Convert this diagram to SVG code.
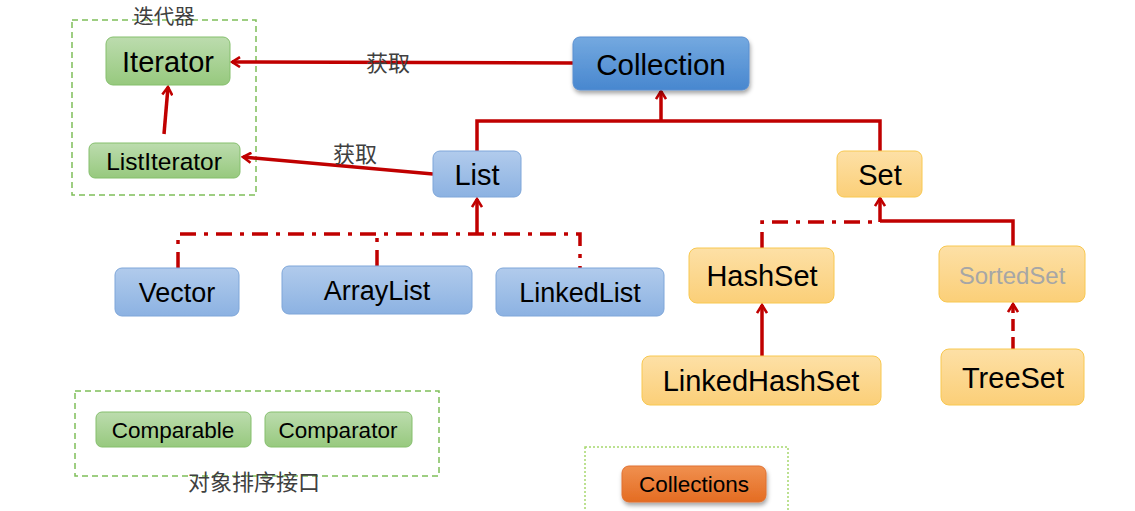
<svg xmlns="http://www.w3.org/2000/svg" width="1135" height="511" viewBox="0 0 1135 511">
<defs>
<linearGradient id="gGreen" x1="0" y1="0" x2="0" y2="1"><stop offset="0" stop-color="#bcdcae"/><stop offset="1" stop-color="#97c97e"/></linearGradient>
<linearGradient id="gBlueL" x1="0" y1="0" x2="0" y2="1"><stop offset="0" stop-color="#b1cbec"/><stop offset="1" stop-color="#8cb2e2"/></linearGradient>
<linearGradient id="gBlue" x1="0" y1="0" x2="0" y2="1"><stop offset="0" stop-color="#74a9e0"/><stop offset="1" stop-color="#4887cf"/></linearGradient>
<linearGradient id="gOrangeL" x1="0" y1="0" x2="0" y2="1"><stop offset="0" stop-color="#fde0a6"/><stop offset="1" stop-color="#fbcf78"/></linearGradient>
<linearGradient id="gOrange" x1="0" y1="0" x2="0" y2="1"><stop offset="0" stop-color="#f0904f"/><stop offset="1" stop-color="#e46c22"/></linearGradient>
<filter id="sh" x="-20%" y="-20%" width="140%" height="160%"><feDropShadow dx="1" dy="3" stdDeviation="2" flood-color="#000" flood-opacity="0.35"/></filter>
<marker id="ah" viewBox="0 0 12 12" refX="10" refY="6" markerWidth="12" markerHeight="12" markerUnits="userSpaceOnUse" orient="auto"><polyline points="2,1 10,6 2,11" fill="none" stroke="#c00000" stroke-width="2.6"/></marker>
</defs>
<style>
.t{font-family:"Liberation Sans",Arial,sans-serif;fill:#000;text-anchor:middle;dominant-baseline:central}
.cjk{font-family:"Noto Sans CJK SC",sans-serif;fill:#404040;text-anchor:middle;dominant-baseline:central;font-size:22px}
.green{fill:url(#gGreen);stroke:#85bf6d;stroke-width:1}
.bluel{fill:url(#gBlueL);stroke:#7ea6d9;stroke-width:1}
.blue{fill:url(#gBlue);stroke:#5a8fd0;stroke-width:1}
.orl{fill:url(#gOrangeL);stroke:#f8c850;stroke-width:1}
.or{fill:url(#gOrange);stroke:#e07030;stroke-width:1}
.c{fill:none;stroke:#c00000;stroke-width:3.5}
.dd{stroke-dasharray:16,8,4,8}
.box{fill:none;stroke:#7fbf5a;stroke-width:1.5;stroke-dasharray:6,4}
</style>
<rect class="box" x="72" y="20" width="184" height="175"/>
<text x="164" y="24" font-family="Noto Sans CJK SC, sans-serif" font-size="20.5" fill="#404040" text-anchor="middle">迭代器</text>
<rect class="box" x="75" y="391" width="364" height="85"/>
<text class="cjk" x="254" y="480">对象排序接口</text>
<rect x="585" y="447" width="203" height="70" fill="none" stroke="#a6d86e" stroke-width="1.5" stroke-dasharray="2,2"/>

<g id="connectors">
<line class="c" x1="573" y1="63" x2="232" y2="62" marker-end="url(#ah)"/>
<text class="cjk" x="388" y="61">获取</text>
<line class="c" x1="433" y1="174" x2="243" y2="157" marker-end="url(#ah)"/>
<text class="cjk" x="355" y="152">获取</text>
<line class="c" x1="164" y1="134" x2="168" y2="87" marker-end="url(#ah)"/>
<polyline class="c" points="477,151 477,121 880,121 880,151"/>
<line class="c" x1="661" y1="121" x2="661" y2="91" marker-end="url(#ah)"/>
<polyline class="c dd" points="178,268 178,234 580,234 580,268"/>
<line class="c dd" x1="377" y1="266" x2="377" y2="234"/>
<line class="c" x1="477" y1="234" x2="477" y2="199" marker-end="url(#ah)"/>
<polyline class="c dd" points="762,248 762,222 880,222"/>
<polyline class="c" points="880,221 1013,221 1013,246"/>
<line class="c" x1="880" y1="222" x2="880" y2="198" marker-end="url(#ah)"/>
<line class="c" x1="762" y1="356" x2="762" y2="305" marker-end="url(#ah)"/>
<line class="c" x1="1013" y1="349" x2="1013" y2="304" stroke-dasharray="12,6" marker-end="url(#ah)"/>
</g>

<g id="Iterator"><rect class="green" x="106" y="37" width="124" height="48" rx="7"/><text class="t" x="168" y="62" font-size="29">Iterator</text></g>
<g id="ListIterator"><rect class="green" x="89" y="143" width="151" height="35" rx="6"/><text class="t" x="164" y="161" font-size="24.5">ListIterator</text></g>
<g id="Collection"><rect class="blue" x="573" y="37" width="176" height="53" rx="7" filter="url(#sh)"/><text class="t" x="661" y="64" font-size="29.5">Collection</text></g>
<g id="List"><rect class="bluel" x="433" y="151" width="88" height="46" rx="7"/><text class="t" x="477" y="175" font-size="29">List</text></g>
<g id="Set"><rect class="orl" x="837" y="151" width="85" height="46" rx="7"/><text class="t" x="880" y="175" font-size="29">Set</text></g>
<g id="Vector"><rect class="bluel" x="115" y="268" width="124" height="48" rx="7"/><text class="t" x="177" y="293" font-size="27">Vector</text></g>
<g id="ArrayList"><rect class="bluel" x="282" y="266" width="190" height="48" rx="7"/><text class="t" x="377" y="291" font-size="27">ArrayList</text></g>
<g id="LinkedList"><rect class="bluel" x="496" y="268" width="168" height="48" rx="7"/><text class="t" x="580" y="293" font-size="27">LinkedList</text></g>
<g id="HashSet"><rect class="orl" x="689" y="248" width="145" height="55" rx="8"/><text class="t" x="762" y="276" font-size="29">HashSet</text></g>
<g id="SortedSet"><rect class="orl" x="939" y="246" width="146" height="56" rx="8"/><text class="t" x="1012" y="275" font-size="24" style="fill:#a6a6a6">SortedSet</text></g>
<g id="LinkedHashSet"><rect class="orl" x="642" y="356" width="239" height="49" rx="8"/><text class="t" x="761" y="381" font-size="29">LinkedHashSet</text></g>
<g id="TreeSet"><rect class="orl" x="941" y="349" width="143" height="56" rx="8"/><text class="t" x="1013" y="378" font-size="29">TreeSet</text></g>
<g id="Comparable"><rect class="green" x="96" y="412" width="155" height="35" rx="6"/><text class="t" x="173" y="430" font-size="22.5">Comparable</text></g>
<g id="Comparator"><rect class="green" x="265" y="412" width="147" height="35" rx="6"/><text class="t" x="338" y="430" font-size="22.5">Comparator</text></g>
<g id="Collections"><rect class="or" x="622" y="466" width="144" height="36" rx="7" filter="url(#sh)"/><text class="t" x="694" y="484" font-size="22.5">Collections</text></g>
</svg>
